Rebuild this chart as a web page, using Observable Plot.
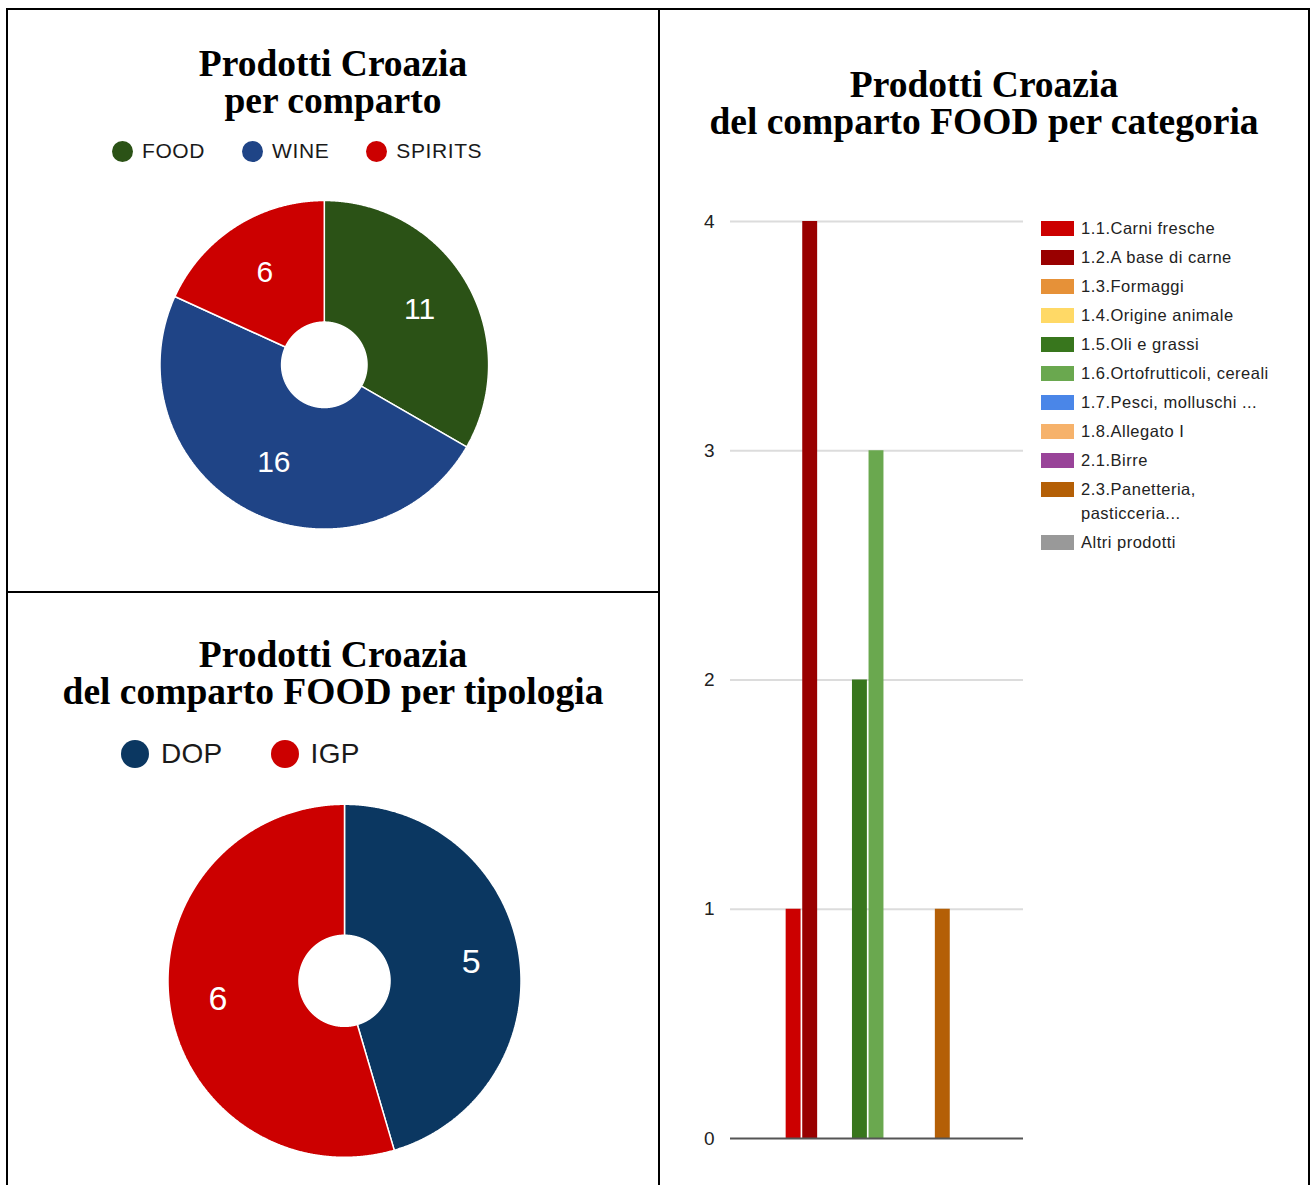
<!DOCTYPE html>
<html>
<head>
<meta charset="utf-8">
<script src="https://cdn.jsdelivr.net/npm/d3@7"></script>
<script src="https://cdn.jsdelivr.net/npm/@observablehq/plot@0.6"></script>
<style>
  html, body { margin: 0; padding: 0; background: #fff; }
  body { width: 1312px; height: 1185px; position: relative; overflow: hidden; }
  .line { position: absolute; background: #000; }
  .title { position: absolute; text-align: center; font-family: "Liberation Serif", "Times New Roman", serif;
           font-weight: bold; font-size: 37.5px; line-height: 37px; color: #000; }
  .pie-legend { position: absolute; display: flex; align-items: center; font-family: "Liberation Sans", Arial, sans-serif; color: #1a1a1a; }
  .pie-legend .item { display: flex; align-items: center; }
  .pie-legend .dot { border-radius: 50%; display: inline-block; }
  .bar-legend { position: absolute; font-family: "Liberation Sans", Arial, sans-serif; font-size: 16.5px; letter-spacing: 0.5px; color: #222; }
  .bar-legend .row { display: flex; align-items: flex-start; padding-bottom: 5px; }
  .bar-legend .sw { width: 33px; height: 15px; margin-top: 4.5px; margin-right: 7px; flex: none; }
  .bar-legend .lab { line-height: 24px; width: 205px; }
  .chart { position: absolute; }
</style>
</head>
<body>
<!-- table borders -->
<div class="line" style="left:6px; top:8px; width:1304px; height:2px;"></div>
<div class="line" style="left:6px; top:8px; width:2px; height:1185px;"></div>
<div class="line" style="left:1308px; top:8px; width:2px; height:1185px;"></div>
<div class="line" style="left:658px; top:8px; width:2px; height:1185px;"></div>
<div class="line" style="left:6px; top:591px; width:654px; height:2px;"></div>

<div class="title" style="left:8px; top:45px; width:650px;">Prodotti Croazia<br>per comparto</div>
<div id="legendA" class="pie-legend" style="left:112px; top:140px; height:22px; font-size:21px; letter-spacing:0.6px;"></div>
<div id="pieA" class="chart" style="left:8px; top:180px;"></div>

<div class="title" style="left:8px; top:636px; width:650px;">Prodotti Croazia<br>del comparto FOOD per tipologia</div>
<div id="legendB" class="pie-legend" style="left:121px; top:740px; height:28px; font-size:28px; letter-spacing:0.3px;"></div>
<div id="pieB" class="chart" style="left:8px; top:780px;"></div>

<div class="title" style="left:660px; top:66px; width:648px;">Prodotti Croazia<br>del comparto FOOD per categoria</div>
<div id="bars" class="chart" style="left:660px; top:200px;"></div>
<div id="legendC" class="bar-legend" style="left:1041px; top:216px;"></div>

<script>
// ---------- DATA ----------
const compartoLabels = ["FOOD", "WINE", "SPIRITS"];
const compartoValues = [11, 16, 6];
const compartoColors = ["#2b5216", "#1f4486", "#cc0000"];

const tipologiaLabels = ["DOP", "IGP"];
const tipologiaValues = [5, 6];
const tipologiaColors = ["#0b3761", "#cc0000"];

const categorie = [
  "1.1.Carni fresche",
  "1.2.A base di carne",
  "1.3.Formaggi",
  "1.4.Origine animale",
  "1.5.Oli e grassi",
  "1.6.Ortofrutticoli, cereali",
  "1.7.Pesci, molluschi ...",
  "1.8.Allegato I",
  "2.1.Birre",
  "2.3.Panetteria, pasticceria...",
  "Altri prodotti"
];
const categorieValues = [1, 4, 0, 0, 2, 3, 0, 0, 0, 1, 0];
const categorieColors = ["#cc0000", "#990000", "#e69138", "#ffd966", "#38761d", "#6aa84f",
                         "#4a86e8", "#f6b26b", "#994499", "#b45f06", "#999999"];
const yTicks = [0, 1, 2, 3, 4];

// ---------- PIE LEGENDS ----------
function pieLegend(id, labels, colors, dotSize, gapText, gapItem) {
  const el = document.getElementById(id);
  labels.forEach((l, i) => {
    const item = document.createElement("div");
    item.className = "item";
    item.style.marginRight = gapItem + "px";
    const dot = document.createElement("span");
    dot.className = "dot";
    dot.style.width = dotSize + "px";
    dot.style.height = dotSize + "px";
    dot.style.background = colors[i];
    dot.style.marginRight = gapText + "px";
    const t = document.createElement("span");
    t.textContent = l;
    item.appendChild(dot);
    item.appendChild(t);
    el.appendChild(item);
  });
}
pieLegend("legendA", compartoLabels, compartoColors, 21, 9, 37);
pieLegend("legendB", tipologiaLabels, tipologiaColors, 28, 12, 48);

// ---------- DONUTS ----------
function donut(id, labels, values, colors, o) {
  const arcs = d3.pie().sort(null).value(d => d)(values);
  const rows = [];
  arcs.forEach((a, i) => {
    const n = Math.max(4, Math.ceil((a.endAngle - a.startAngle) / 0.005));
    const pts = [];
    for (let k = 0; k <= n; k++) {
      const t = a.startAngle + (a.endAngle - a.startAngle) * k / n;
      pts.push({key: labels[i], x: Math.sin(t), y: Math.cos(t)});
    }
    for (let k = n; k >= 0; k--) {
      const t = a.startAngle + (a.endAngle - a.startAngle) * k / n;
      pts.push({key: labels[i], x: o.inner * Math.sin(t), y: o.inner * Math.cos(t)});
    }
    pts.push({...pts[0]});
    rows.push(...pts);
  });
  const lab = arcs.map((a, i) => {
    const m = (a.startAngle + a.endAngle) / 2;
    return {key: labels[i], value: String(values[i]), x: o.labelR * Math.sin(m), y: o.labelR * Math.cos(m)};
  });
  const svg = Plot.plot({
    width: o.width, height: o.height, margin: 0,
    style: {background: "transparent", overflow: "visible"},
    x: {domain: [-1, 1], range: [o.cx - o.R, o.cx + o.R], axis: null},
    y: {domain: [-1, 1], range: [o.cy + o.R, o.cy - o.R], axis: null},
    color: {domain: labels, range: colors},
    marks: [
      Plot.line(rows, {x: "x", y: "y", z: "key", fill: "key", stroke: "white", strokeWidth: 1.5, strokeLinejoin: "miter"}),
      Plot.text(lab, {x: "x", y: "y", text: "value", fill: "white", fontSize: o.fontSize,
                      fontFamily: "Liberation Sans, Arial, sans-serif"})
    ]
  });
  document.getElementById(id).appendChild(svg);
}
donut("pieA", compartoLabels, compartoValues, compartoColors,
      {width: 650, height: 400, cx: 315.8, cy: 184.3, R: 164.3, inner: 0.26, labelR: 0.67, fontSize: 30});
donut("pieB", tipologiaLabels, tipologiaValues, tipologiaColors,
      {width: 650, height: 405, cx: 336, cy: 200.3, R: 176.5, inner: 0.258, labelR: 0.725, fontSize: 34});

// ---------- BAR CHART ----------
const barData = categorie.map((c, i) => ({cat: c, value: categorieValues[i]}));
const bars = Plot.plot({
  width: 649, height: 985,
  marginLeft: 70, marginRight: 286, marginTop: 21, marginBottom: 47,
  style: {background: "transparent", fontFamily: "Liberation Sans, Arial, sans-serif", fontSize: "19px", color: "#222"},
  x: {domain: categorie, range: [124, 308], padding: 0.1, round: false, axis: null},
  y: {domain: [yTicks[0], yTicks[yTicks.length - 1]], ticks: yTicks.length - 1, tickSize: 0, tickPadding: 16,
      label: null, tickFormat: d3.format("d")},
  color: {domain: categorie, range: categorieColors},
  marks: [
    Plot.ruleY(yTicks.filter(v => v > 0), {stroke: "#dcdcdc", strokeWidth: 2}),
    Plot.barY(barData.filter(d => d.value > 0), {x: "cat", y: "value", fill: "cat"}),
    Plot.ruleY([0], {stroke: "#555", strokeWidth: 2})
  ]
});
document.getElementById("bars").appendChild(bars);

// ---------- BAR LEGEND ----------
const legC = document.getElementById("legendC");
categorie.forEach((c, i) => {
  const row = document.createElement("div");
  row.className = "row";
  const sw = document.createElement("span");
  sw.className = "sw";
  sw.style.background = categorieColors[i];
  const t = document.createElement("span");
  t.className = "lab";
  t.textContent = c;
  row.appendChild(sw);
  row.appendChild(t);
  legC.appendChild(row);
});
</script>
</body>
</html>
